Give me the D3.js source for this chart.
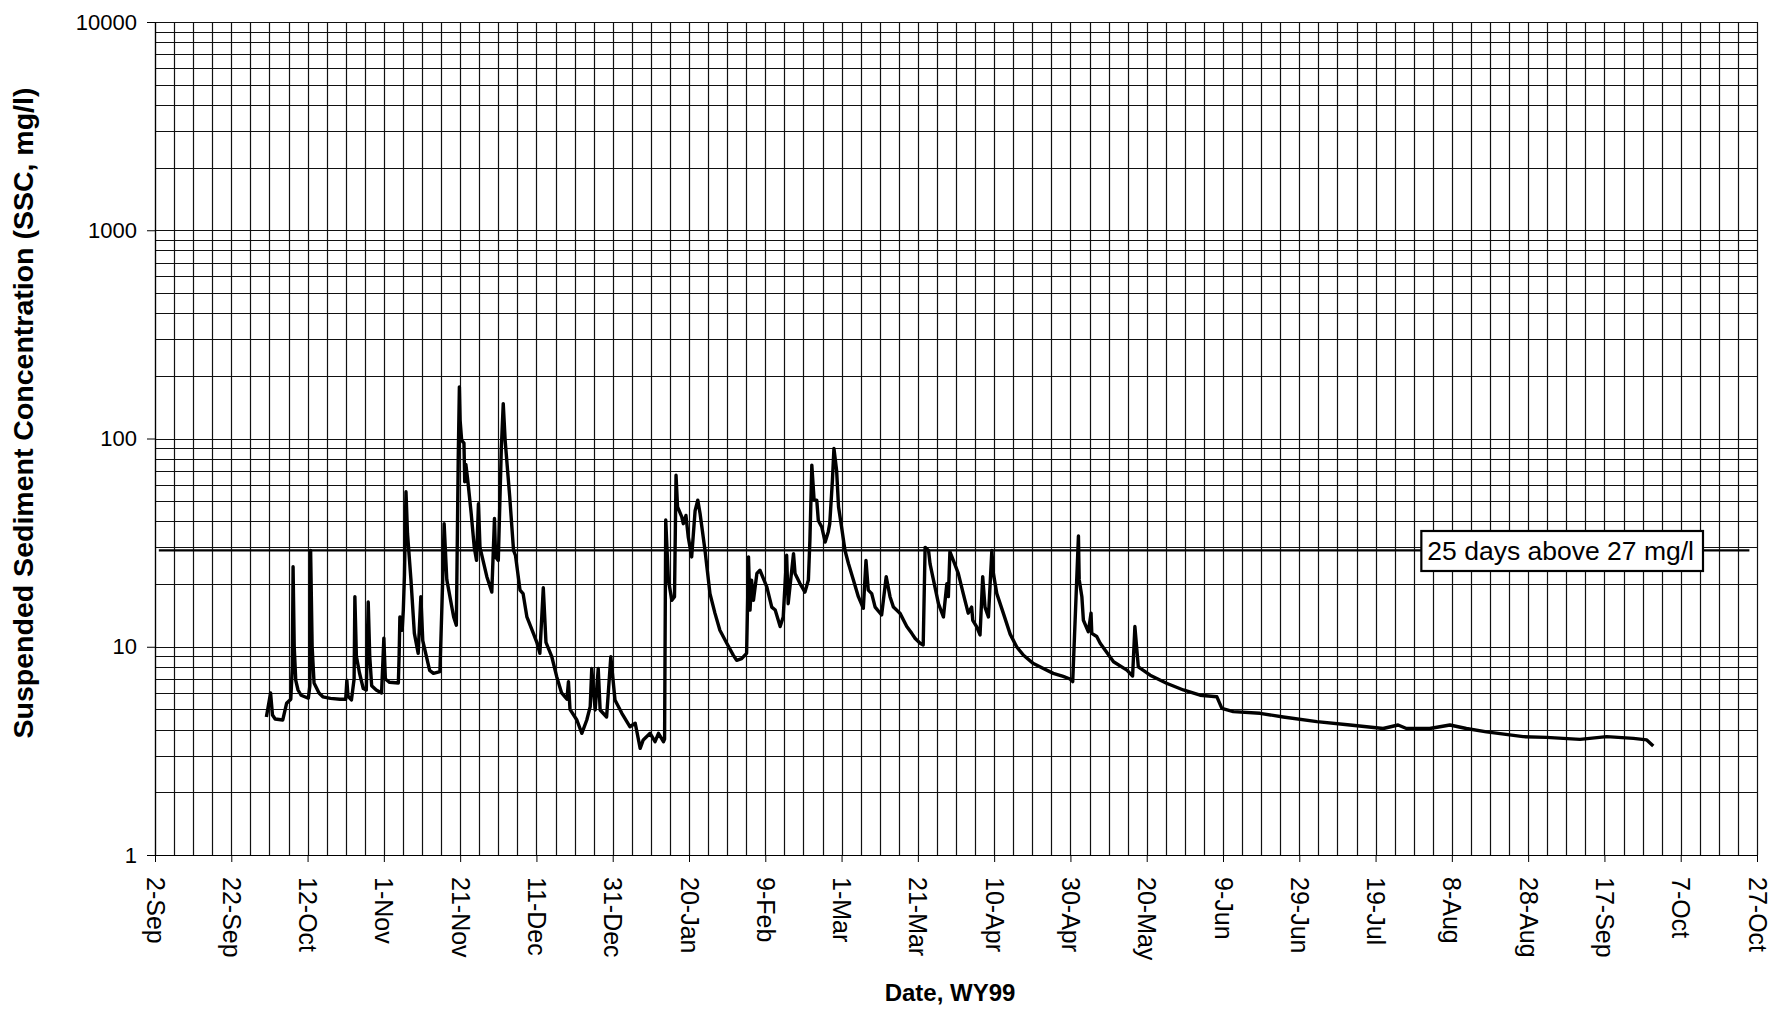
<!DOCTYPE html>
<html>
<head>
<meta charset="utf-8">
<script src="https://cdn.jsdelivr.net/npm/d3@7"></script>
<style>
  body { margin: 0; background: #fff; }
  svg text { font-family: "Liberation Sans", Arial, sans-serif; fill: #000; }
</style>
</head>
<body>
<svg width="1791" height="1012"></svg>
<script>
// days since 1-Oct-1998 (start of WY99)
const wyDay = [
  0.2, 1.3, 1.8, 2.5, 4.5, 5.5, 6.6, 7.0, 7.2, 7.5, 7.9, 8.5, 9.3, 11.2, 11.6, 11.8, 12.2, 12.7, 14.0, 15.0,
  17.0, 19.5, 21.0, 21.3, 21.6, 22.5, 23.2, 23.4, 23.8, 24.6, 25.6, 26.4, 26.9, 27.3, 27.8, 29.0, 30.4, 31.0, 31.4, 32.5,
  34.8, 35.0, 35.2, 35.8, 36.1, 36.4, 36.8, 37.2, 38.1, 39.0, 40.0, 40.7, 41.2, 43.0, 44.0, 45.7, 46.4, 46.8, 47.5, 49.3,
  50.0, 50.5, 50.8, 51.0, 51.4, 52.0, 52.2, 52.5, 53.0, 53.9, 54.7, 55.3, 55.8, 56.2, 58.0, 59.3, 60.0, 60.3, 61.0, 61.8,
  62.3, 62.8, 64.0, 65.0, 65.5, 66.7, 67.5, 68.5, 70.2, 71.1, 71.9, 72.8, 73.5, 75.0, 76.3, 77.6, 79.0, 79.4, 79.8, 81.6,
  82.9, 84.2, 85.1, 85.5, 86.4, 87.2, 87.7, 89.4, 90.5, 91.6, 93.4, 95.5, 96.9, 98.2, 99.0, 100.8, 102.1, 103.0, 104.3, 104.6,
  104.9, 105.6, 106.5, 107.2, 107.6, 108.0, 109.1, 109.5, 110.2, 110.8, 111.7, 112.6, 113.3, 113.9, 115.2, 116.5, 117.8, 119.1, 120.9, 122.6,
  123.5, 124.8, 126.1, 126.6, 127.0, 127.4, 127.9, 128.8, 129.6, 131.4, 132.7, 133.6, 134.9, 135.7, 136.6, 137.0, 138.4, 138.8, 140.1, 141.4,
  142.3, 142.7, 143.2, 143.8, 144.5, 144.9, 145.8, 146.7, 147.5, 147.9, 148.6, 149.0, 149.7, 150.2, 151.0, 151.9, 152.8, 154.1, 155.4, 156.7,
  157.4, 158.0, 158.9, 159.8, 161.5, 162.7, 163.7, 164.6, 166.3, 168.1, 169.4, 170.3, 171.6, 172.4, 172.9, 173.8, 174.2, 175.1, 176.4, 177.7,
  178.6, 179.0, 179.4, 180.3, 181.6, 182.9, 184.2, 185.1, 185.4, 186.4, 187.3, 188.0, 188.6, 189.5, 190.4, 190.8, 191.7, 193.4, 195.2, 196.9,
  198.7, 201.3, 203.9, 206.5, 209.1, 210.9, 211.6, 213.1, 213.3, 214.0, 214.4, 215.7, 216.4, 216.6, 217.9, 218.8, 222.3, 225.8, 227.3, 227.9,
  228.8, 231.9, 236.2, 240.6, 245.0, 249.4, 250.7, 253.7, 260.7, 266.8, 275.6, 284.3, 293.0, 296.9, 299.1, 305.2, 310.5, 314.8, 320.1, 329.7,
  335.8, 344.6, 351.6, 358.6, 362.1, 363.8
]
// suspended sediment concentration, mg/l
const ssc = [
  4.6, 6.0, 4.7, 4.5, 4.45, 5.35, 5.6, 8, 24.2, 10, 6.9, 6.2, 5.85, 5.66, 6.5, 29, 10, 6.7, 6.0, 5.75,
  5.65, 5.6, 5.6, 6.9, 5.8, 5.55, 7, 17.4, 9, 7.5, 6.3, 6.2, 16.4, 9, 6.5, 6.2, 6.0, 11, 7, 6.75,
  6.7, 9, 13.9, 12, 15, 22, 55.5, 35, 21, 11.6, 9.3, 17.4, 10.7, 7.7, 7.45, 7.6, 20, 39, 21, 13.9,
  12.7, 80, 177, 122, 98, 95, 62, 75, 63, 43.6, 30, 26, 48.6, 30, 21.7, 18.3, 41.3, 27, 26, 90,
  147, 98, 52.4, 29, 27.5, 18.7, 18.0, 13.9, 11.6, 10.5, 9.3, 19.2, 10.5, 9.0, 7.2, 6.0, 5.6, 6.8, 5.0, 4.45,
  3.84, 4.45, 5.16, 7.86, 4.97, 7.86, 4.97, 4.6, 8.95, 5.55, 4.79, 4.13, 4.29, 3.25, 3.57, 3.84, 3.5, 3.84, 3.5, 3.6,
  40.6, 20.9, 16.7, 17.4, 66.6, 47, 42, 39, 42.7, 33.7, 27, 45, 50.6, 43.6, 29, 18, 14.5, 12.0, 10.4, 9.12,
  8.6, 8.77, 9.3, 27, 15, 20.9, 16.7, 22.5, 23.3, 19.4, 15.5, 15, 12.5, 13.9, 27.5, 16.1, 28, 22.5, 20.1, 18.3,
  20.9, 32.5, 74.5, 50.6, 50.6, 40.4, 37.6, 31.8, 35.6, 39, 63, 89.6, 70.3, 47, 37.6, 29, 25.1, 20.9, 17.4, 15.3,
  26, 18.7, 18, 15.5, 14.2, 21.7, 17.4, 15.5, 14.5, 12.5, 11.6, 10.96, 10.4, 10.2, 30, 29, 25, 20.9, 16.1, 13.9,
  20.1, 17.4, 28.6, 26, 22.5, 18, 14.5, 15.5, 13.4, 12.5, 11.4, 21.7, 15.5, 13.9, 29, 22.5, 18, 14.5, 11.5, 10.0,
  9.1, 8.3, 7.86, 7.45, 7.2, 7.0, 6.8, 34, 21, 17.4, 13.4, 11.8, 14.5, 11.6, 11.2, 10.4, 8.47, 7.72, 7.24, 12.5,
  8.0, 7.3, 6.68, 6.2, 5.85, 5.75, 5.06, 4.88, 4.79, 4.6, 4.37, 4.21, 4.05, 4.21, 4.05, 4.05, 4.21, 4.05, 3.9, 3.7,
  3.67, 3.59, 3.7, 3.63, 3.57, 3.34
]

const axisStart = '1998-09-02'
const axisEnd = '1999-10-27'
const yTickValues = [1, 10, 100, 1000, 10000]
const thresholdValue = 29
const thresholdStart = '1998-09-03'
const thresholdEnd = '1999-10-25'
const noteDate = '1999-07-31'
const noteText = '25 days above 27 mg/l'
const yTitle = 'Suspended Sediment Concentration (SSC, mg/l)'
const xTitle = 'Date, WY99'

const wyStart = Date.UTC(1998, 9, 1)
const data = wyDay.map((d, i) => ({ date: new Date(wyStart + d * 864e5), value: ssc[i] }))

const svg = d3.select('svg')
const margin = { top: 22, right: 34, bottom: 157, left: 155 }
const width = +svg.attr('width') - margin.left - margin.right
const height = +svg.attr('height') - margin.top - margin.bottom

const parse = d3.utcParse('%Y-%m-%d')
const start = parse(axisStart)
const end = parse(axisEnd)

const x = d3.scaleUtc().domain([start, end]).range([0, width])
const y = d3.scaleLog().domain([1, 10000]).range([height, 0])

const g = svg.append('g')
  .attr('transform', 'translate(' + margin.left + ',' + margin.top + ')')

// grid: every 5 days and every log minor step
const gridDays = d3.utcDay.range(start, d3.utcDay.offset(end, 1), 5)
g.append('g')
  .selectAll('line')
  .data(gridDays)
  .enter().append('line')
  .attr('x1', (d) => Math.round(x(d)) + 0.5)
  .attr('x2', (d) => Math.round(x(d)) + 0.5)
  .attr('y1', 0)
  .attr('y2', height)
  .attr('stroke', '#111')
  .attr('stroke-width', 1.2)

g.append('g')
  .selectAll('line')
  .data(y.ticks())
  .enter().append('line')
  .attr('x1', 0)
  .attr('x2', width)
  .attr('y1', (d) => Math.round(y(d)) + 0.5)
  .attr('y2', (d) => Math.round(y(d)) + 0.5)
  .attr('stroke', '#111')
  .attr('stroke-width', 1.2)

// x axis
const majorDays = d3.utcDay.range(start, d3.utcDay.offset(end, 1), 20)
const xAxis = g.append('g')
  .attr('transform', 'translate(0,' + height + ')')
  .call(d3.axisBottom(x).tickValues(majorDays).tickFormat(d3.utcFormat('%-d-%b')).tickSize(7).tickSizeOuter(0))
xAxis.select('.domain').attr('stroke', '#000').attr('stroke-width', 1.2)
xAxis.selectAll('.tick line').attr('stroke', '#000')
xAxis.selectAll('text')
  .attr('transform', 'rotate(90)')
  .attr('x', 22)
  .attr('y', 0)
  .attr('dy', '0.36em')
  .attr('text-anchor', 'start')
  .style('font-size', '25px')

// y axis
const yAxis = g.append('g')
  .call(d3.axisLeft(y).tickValues(yTickValues).tickFormat(d3.format('d')).tickSize(8).tickPadding(10).tickSizeOuter(0))
yAxis.select('.domain').attr('stroke', '#000').attr('stroke-width', 1.2)
yAxis.selectAll('.tick line').attr('stroke', '#000')
yAxis.selectAll('text').style('font-size', '22px')

// threshold line
g.append('line')
  .attr('x1', x(parse(thresholdStart)))
  .attr('x2', x(parse(thresholdEnd)))
  .attr('y1', y(thresholdValue))
  .attr('y2', y(thresholdValue))
  .attr('stroke', '#000')
  .attr('stroke-width', 2.2)

// SSC series
const line = d3.line()
  .x((d) => x(d.date))
  .y((d) => y(d.value))

g.append('path')
  .datum(data)
  .attr('fill', 'none')
  .attr('stroke', '#000')
  .attr('stroke-width', 3.4)
  .attr('stroke-linejoin', 'round')
  .attr('d', line)

// annotation box
const note = g.append('g')
  .attr('transform', 'translate(' + x(parse(noteDate)) + ',' + y(thresholdValue) + ')')
const noteBox = note.append('rect')
  .attr('fill', '#fff')
  .attr('stroke', '#000')
  .attr('stroke-width', 2.2)
const noteLabel = note.append('text')
  .attr('x', 6)
  .attr('dy', '0.36em')
  .style('font-size', '26.5px')
  .text(noteText)
const bb = noteLabel.node().getBBox()
noteBox
  .attr('x', 0)
  .attr('y', bb.y - 5)
  .attr('width', bb.width + 15)
  .attr('height', bb.height + 10)

// titles
svg.append('text')
  .attr('transform', 'translate(' + 33 + ',' + 413 + ') rotate(-90)')
  .attr('text-anchor', 'middle')
  .style('font-size', '28.5px')
  .style('font-weight', 'bold')
  .text(yTitle)

svg.append('text')
  .attr('x', margin.left + width / 2 - 6)
  .attr('y', 1001)
  .attr('text-anchor', 'middle')
  .style('font-size', '24px')
  .style('font-weight', 'bold')
  .text(xTitle)
</script>
</body>
</html>
